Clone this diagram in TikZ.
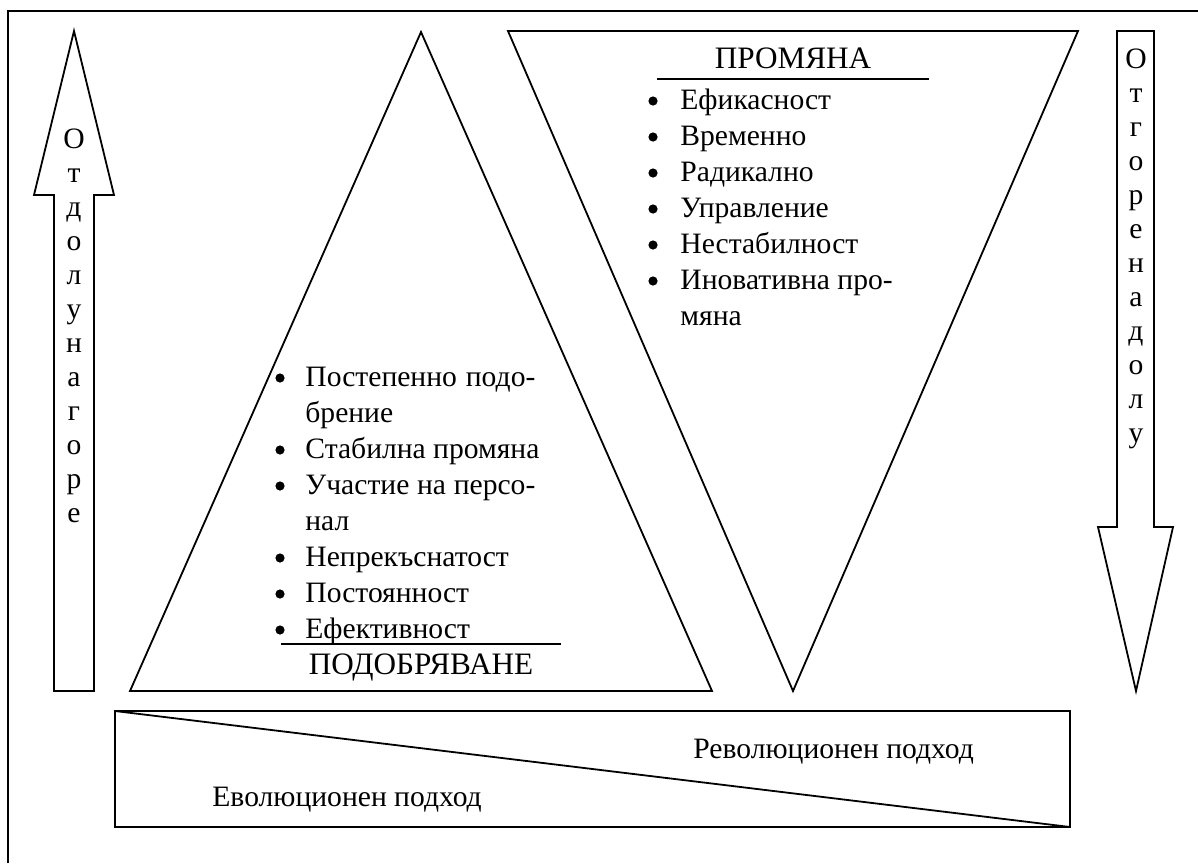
\documentclass[tikz,border=0pt]{standalone}
\usepackage{fontspec}
\setmainfont{Liberation Serif}

\tikzset{
  outline/.style={line width=0.9pt, line join=miter},
  txt/.style={inner sep=0pt, font=\fontsize{14.8}{17}\selectfont},
  letter/.style={txt, anchor=base},
  dot/.style={circle, fill, inner sep=0pt, minimum size=4.6pt},
  item/.style={txt, anchor=base west},
  head/.style={inner sep=0pt, anchor=base, font=\fontsize{15.6}{18}\selectfont}
}

\begin{document}
\begin{tikzpicture}[x=0.5pt, y=-0.5pt]
        \useasboundingbox (0,0) rectangle (1198,863);

        % frame (open to the right and below)
        \draw[line width=1.1pt] (8,863) -- (8,11) -- (1198,11);

        % up arrow
        \draw[outline] (54,691) -- (54,195) -- (34,195) -- (74,31) -- (114,195) -- (94,195) -- (94,691) -- cycle;
        \foreach \ch [count=\i] in {О,т,д,о,л,у,н,а,г,о,р,е} {
            \node[letter] (up\i) at (74,{148+34*(\i-1)}) {\ch};
        }

        % down arrow
        \draw[outline] (1117,31) -- (1154,31) -- (1154,527) -- (1173,527) -- (1136,691) -- (1098,527) -- (1117,527) -- cycle;
        \foreach \ch [count=\i] in {О,т,г,о,р,е,н,а,д,о,л,у} {
            \node[letter] (down\i) at (1136,{68+34*(\i-1)}) {\ch};
        }

        % improvement triangle
        \draw[outline] (130,691) -- (421,32) -- (712,691) -- cycle;
        \foreach \y/\t [count=\i] in {386/{\makebox[115pt][s]{Постепенно подо-}}, 458/{Стабилна промяна}, 494/{\makebox[115pt][s]{Участие на персо-}}, 566/Непрекъснатост, 602/Постоянност, 638/Ефективност} {
            \node[dot] (ib\i) at (280,\y-8) {};
            \node[item] (it\i) at (305,\y) {\t};
        }
        \node[item] (it1b) at (305,422) {брение};
        \node[item] (it3b) at (305,530) {нал};
        \draw[line width=0.9pt] (281,644) -- (561,644);
        \node[head] (impr) at (421,674) {ПОДОБРЯВАНЕ};

        % change triangle
        \draw[outline] (508,31) -- (1078,31) -- (793,691) -- cycle;
        \node[head] (chg) at (793,68) {ПРОМЯНА};
        \draw[line width=0.9pt] (657,79) -- (929,79);
        \foreach \y/\t [count=\i] in {109/Ефикасност, 145/Временно, 181/Радикално, 217/Управление, 253/Нестабилност, 289/{Иновативна про-}} {
            \node[dot] (cb\i) at (653,\y-8) {};
            \node[item] (ct\i) at (680,\y) {\t};
        }
        \node[item] (ct6b) at (680,325) {мяна};

        % approaches
        \draw[outline] (115,711) rectangle (1070,827);
        \draw[outline] (115,711) -- (1070,827);
        \node[item] (rev) at (693,758) {Революционен подход};
        \node[item] (evo) at (212,806) {Еволюционен подход};

    \end{tikzpicture}
\end{document}
